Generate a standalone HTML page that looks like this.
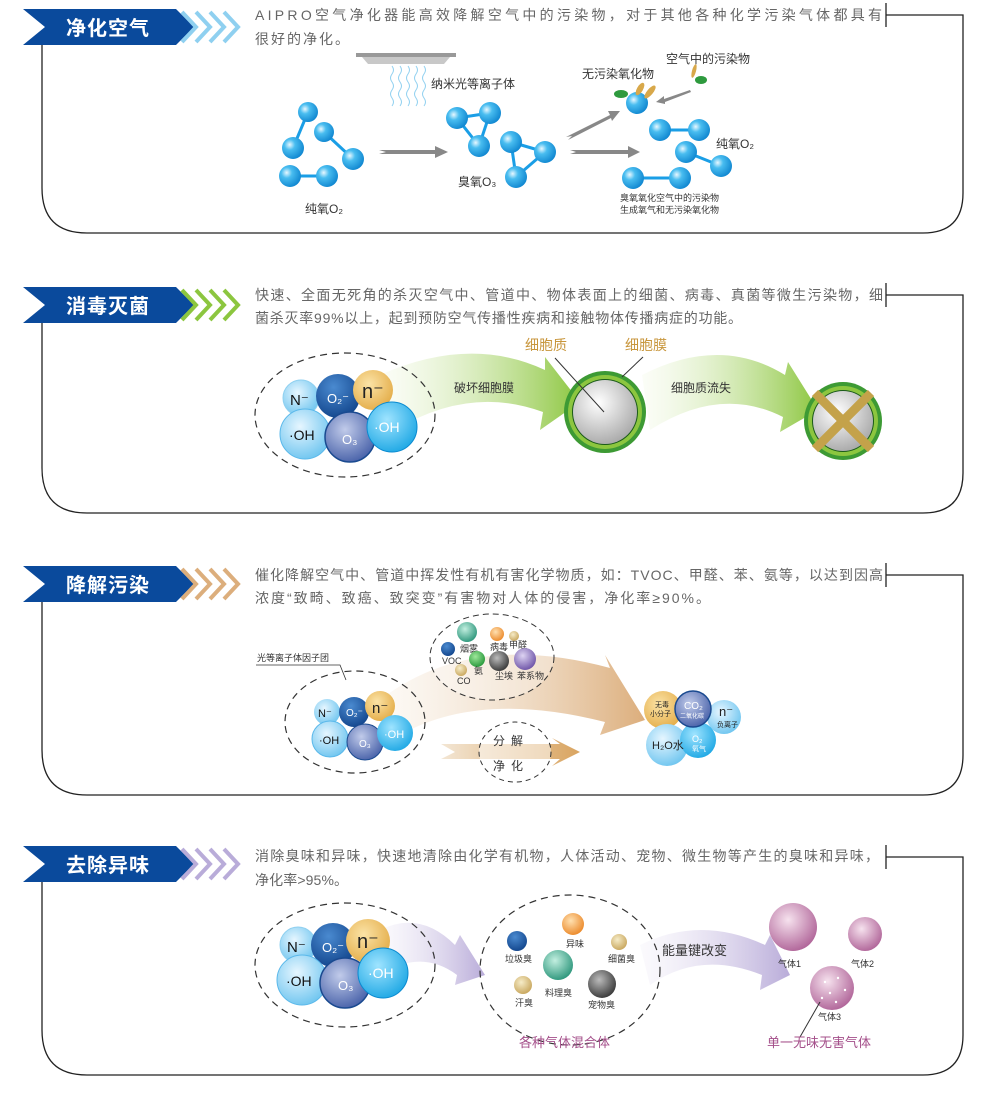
<!DOCTYPE html>
<html><head><meta charset="utf-8"><style>
body{margin:0;background:#fff;}
svg{display:block;font-family:"Liberation Sans","Noto Sans CJK SC",sans-serif;}
.d{font-size:14px;fill:#666;}
.h{font-size:20px;fill:#fff;font-weight:bold;letter-spacing:1px;}
.s{font-size:12px;fill:#333;}
.t{font-size:9px;fill:#333;}
</style></head><body>
<svg width="993" height="1107" viewBox="0 0 993 1107">
<defs>
<radialGradient id="bb" cx="0.35" cy="0.35" r="0.7"><stop offset="0" stop-color="#e8f8ff"/><stop offset="0.35" stop-color="#49bdf0"/><stop offset="1" stop-color="#0f86d0"/></radialGradient>
<radialGradient id="lb" cx="0.4" cy="0.35" r="0.7"><stop offset="0" stop-color="#e6f6ff"/><stop offset="1" stop-color="#6cc4ef"/></radialGradient>
<radialGradient id="db" cx="0.4" cy="0.3" r="0.8"><stop offset="0" stop-color="#4a8ad0"/><stop offset="1" stop-color="#0d3f86"/></radialGradient>
<radialGradient id="ob" cx="0.4" cy="0.35" r="0.8"><stop offset="0" stop-color="#fbe3a6"/><stop offset="1" stop-color="#e0a43a"/></radialGradient>
<radialGradient id="pb" cx="0.4" cy="0.35" r="0.8"><stop offset="0" stop-color="#c1cbea"/><stop offset="1" stop-color="#34509e"/></radialGradient>
<radialGradient id="cb" cx="0.4" cy="0.35" r="0.8"><stop offset="0" stop-color="#9fe4ff"/><stop offset="1" stop-color="#0a9ee0"/></radialGradient>
<radialGradient id="gb" cx="0.4" cy="0.35" r="0.8"><stop offset="0" stop-color="#ffffff"/><stop offset="1" stop-color="#9a9a9a"/></radialGradient>
<radialGradient id="mb" cx="0.4" cy="0.35" r="0.8"><stop offset="0" stop-color="#f6e2ee"/><stop offset="1" stop-color="#a44f8a"/></radialGradient>
<radialGradient id="tb" cx="0.4" cy="0.35" r="0.8"><stop offset="0" stop-color="#c2efe0"/><stop offset="1" stop-color="#13876a"/></radialGradient>
<radialGradient id="ab" cx="0.4" cy="0.35" r="0.8"><stop offset="0" stop-color="#ffe0b0"/><stop offset="1" stop-color="#e87a12"/></radialGradient>
<radialGradient id="kb" cx="0.4" cy="0.35" r="0.8"><stop offset="0" stop-color="#bbb"/><stop offset="1" stop-color="#222"/></radialGradient>
<radialGradient id="vb" cx="0.4" cy="0.35" r="0.8"><stop offset="0" stop-color="#ddd3f2"/><stop offset="1" stop-color="#5a3d9a"/></radialGradient>
<radialGradient id="yb" cx="0.4" cy="0.35" r="0.8"><stop offset="0" stop-color="#f6ecc8"/><stop offset="1" stop-color="#c09a4a"/></radialGradient>
<radialGradient id="nb" cx="0.4" cy="0.35" r="0.8"><stop offset="0" stop-color="#9ee79a"/><stop offset="1" stop-color="#128a2a"/></radialGradient>
<linearGradient id="ga" x1="0" x2="1"><stop offset="0" stop-color="#f3f9e6" stop-opacity="0.3"/><stop offset="1" stop-color="#8cc63f"/></linearGradient>
<linearGradient id="ta" x1="0" x2="1"><stop offset="0" stop-color="#f7ede0" stop-opacity="0.3"/><stop offset="1" stop-color="#dcae7c"/></linearGradient>
<linearGradient id="la" x1="0" x2="1"><stop offset="0" stop-color="#f1eef8" stop-opacity="0.3"/><stop offset="1" stop-color="#b9acd9"/></linearGradient>
<linearGradient id="ha" x1="0" x2="1"><stop offset="0" stop-color="#f3e6d4"/><stop offset="1" stop-color="#d9a460"/></linearGradient>
</defs>

<g fill="none" stroke="#222" stroke-width="1.3">
<path d="M42,45 V188 Q42,233 87,233 H923 Q963,233 963,193 V15 H886 M886,3 V27"/>
<path d="M42,323 V468 Q42,513 87,513 H923 Q963,513 963,473 V295 H886 M886,283 V307"/>
<path d="M42,602 V750 Q42,795 87,795 H923 Q963,795 963,755 V575 H886 M886,563 V587"/>
<path d="M42,882 V1030 Q42,1075 87,1075 H923 Q963,1075 963,1035 V857 H886 M886,845 V869"/>
</g>
<polygon points="23,9 176,9 194,27 176,45 23,45 45,27" fill="#0a4a9c"/>
<path d="M182,12 L196,27 L182,42 M196,12 L210,27 L196,42 M210,12 L224,27 L210,42 M224,12 L238,27 L224,42" stroke="#8fd0f0" stroke-width="4" fill="none"/>
<polygon points="23,287 176,287 194,305 176,323 23,323 45,305" fill="#0a4a9c"/>
<path d="M182,290 L196,305 L182,320 M196,290 L210,305 L196,320 M210,290 L224,305 L210,320 M224,290 L238,305 L224,320" stroke="#8cc63f" stroke-width="4" fill="none"/>
<polygon points="23,566 176,566 194,584 176,602 23,602 45,584" fill="#0a4a9c"/>
<path d="M182,569 L196,584 L182,599 M196,569 L210,584 L196,599 M210,569 L224,584 L210,599 M224,569 L238,584 L224,599" stroke="#dcae7c" stroke-width="4" fill="none"/>
<polygon points="23,846 176,846 194,864 176,882 23,882 45,864" fill="#0a4a9c"/>
<path d="M182,849 L196,864 L182,879 M196,849 L210,864 L196,879 M210,849 L224,864 L210,879 M224,849 L238,864 L224,879" stroke="#b9acd9" stroke-width="4" fill="none"/>
<text class="h" x="66" y="35">净化空气</text>
<text class="h" x="66" y="313">消毒灭菌</text>
<text class="h" x="66" y="592">降解污染</text>
<text class="h" x="66" y="872">去除异味</text>

<text class="d" x="255" y="20" textLength="627" lengthAdjust="spacing">AIPRO空气净化器能高效降解空气中的污染物，对于其他各种化学污染气体都具有</text>
<text class="d" x="255" y="44" textLength="94" lengthAdjust="spacing">很好的净化。</text>
<text class="d" x="255" y="300" textLength="628" lengthAdjust="spacing">快速、全面无死角的杀灭空气中、管道中、物体表面上的细菌、病毒、真菌等微生污染物，细</text>
<text class="d" x="255" y="323" textLength="487" lengthAdjust="spacing">菌杀灭率99%以上，起到预防空气传播性疾病和接触物体传播病症的功能。</text>
<text class="d" x="255" y="580" textLength="628" lengthAdjust="spacing">催化降解空气中、管道中挥发性有机有害化学物质，如：TVOC、甲醛、苯、氨等，以达到因高</text>
<text class="d" x="255" y="603" textLength="455" lengthAdjust="spacing">浓度“致畸、致癌、致突变”有害物对人体的侵害，净化率≥90%。</text>
<text class="d" x="255" y="861" textLength="624" lengthAdjust="spacing">消除臭味和异味，快速地清除由化学有机物，人体活动、宠物、微生物等产生的臭味和异味，</text>
<text class="d" x="255" y="885" textLength="93" lengthAdjust="spacing">净化率&gt;95%。</text>

<!-- Section 1 -->
<rect x="356" y="53" width="100" height="4" fill="#999"/>
<polygon points="362,57 450,57 444,64 368,64" fill="#c8c8c8"/>
<g fill="none" stroke="#8fd0f0" stroke-width="1">
<path d="M392,66 q3,4 0,8 q-3,4 0,8 q3,4 0,8 q-3,4 0,8 q3,4 0,8"/>
<path d="M400,66 q3,4 0,8 q-3,4 0,8 q3,4 0,8 q-3,4 0,8 q3,4 0,8"/>
<path d="M408,66 q3,4 0,8 q-3,4 0,8 q3,4 0,8 q-3,4 0,8 q3,4 0,8"/>
<path d="M416,66 q3,4 0,8 q-3,4 0,8 q3,4 0,8 q-3,4 0,8 q3,4 0,8"/>
<path d="M424,66 q3,4 0,8 q-3,4 0,8 q3,4 0,8 q-3,4 0,8 q3,4 0,8"/>
</g>
<text class="s" x="431" y="88" font-size="11">纳米光等离子体</text>
<g stroke="#1a9ee6" stroke-width="3">
<line x1="308" y1="112" x2="293" y2="148"/><line x1="324" y1="132" x2="353" y2="159"/><line x1="290" y1="176" x2="327" y2="176"/>
<line x1="457" y1="118" x2="490" y2="113"/><line x1="490" y1="113" x2="479" y2="146"/><line x1="457" y1="118" x2="479" y2="146"/>
<line x1="511" y1="142" x2="545" y2="152"/><line x1="545" y1="152" x2="516" y2="177"/><line x1="511" y1="142" x2="516" y2="177"/>
<line x1="660" y1="130" x2="699" y2="130"/><line x1="686" y1="152" x2="721" y2="166"/><line x1="633" y1="178" x2="680" y2="178"/>
</g>
<g fill="url(#bb)">
<circle cx="308" cy="112" r="10"/><circle cx="293" cy="148" r="11"/><circle cx="324" cy="132" r="10"/><circle cx="353" cy="159" r="11"/><circle cx="290" cy="176" r="11"/><circle cx="327" cy="176" r="11"/>
<circle cx="457" cy="118" r="11"/><circle cx="490" cy="113" r="11"/><circle cx="479" cy="146" r="11"/>
<circle cx="511" cy="142" r="11"/><circle cx="545" cy="152" r="11"/><circle cx="516" cy="177" r="11"/>
<circle cx="637" cy="103" r="11"/>
<circle cx="660" cy="130" r="11"/><circle cx="699" cy="130" r="11"/><circle cx="686" cy="152" r="11"/><circle cx="721" cy="166" r="11"/><circle cx="633" cy="178" r="11"/><circle cx="680" cy="178" r="11"/>
</g>
<g fill="#888">
<polygon points="379,150 435,150 435,146 448,152 435,158 435,154 379,154 386,152"/>
<polygon points="566,137 610,115 608,111 620,111 612,121 611,118 568,140 572,136"/>
<polygon points="570,150 628,150 628,146 640,152 628,158 628,154 570,154 576,152"/>
<polygon points="690,90 664,99 664,96 656,102 665,104 665,102 691,92"/>
</g>
<ellipse cx="621" cy="94" rx="7" ry="4" fill="#2e9a3e"/><ellipse cx="640" cy="89" rx="3" ry="7" fill="#d8a84a" transform="rotate(30 640 89)"/><ellipse cx="650" cy="92" rx="3" ry="8" fill="#d8a84a" transform="rotate(40 650 92)"/>
<ellipse cx="701" cy="80" rx="6" ry="4" fill="#2e9a3e"/><ellipse cx="694" cy="71" rx="2" ry="7" fill="#d8a84a" transform="rotate(15 694 71)"/>
<text class="s" x="582" y="78" font-size="11">无污染氧化物</text>
<text class="s" x="666" y="63" font-size="11">空气中的污染物</text>
<text class="s" x="716" y="148" font-size="11">纯氧O₂</text>
<text class="s" x="458" y="186" font-size="11">臭氧O₃</text>
<text class="s" x="305" y="213" font-size="11">纯氧O₂</text>
<text class="t" x="620" y="201">臭氧氧化空气中的污染物</text>
<text class="t" x="620" y="213">生成氧气和无污染氧化物</text>

<!-- Section 2 -->
<path d="M380,375 Q470,335 545,370 L545,357 L580,402 L540,430 L543,412 Q470,385 395,430 Z" fill="url(#ga)"/>
<path d="M642,375 Q720,335 785,375 L788,362 L818,410 L780,432 L783,417 Q720,385 650,430 Z" fill="url(#ga)"/>
<text class="s" x="454" y="392">破坏细胞膜</text>
<text class="s" x="671" y="392">细胞质流失</text>
<ellipse cx="345" cy="415" rx="90" ry="62" fill="none" stroke="#333" stroke-dasharray="7,5" stroke-width="1.2"/>
<circle cx="301" cy="398" r="18" fill="url(#lb)" stroke="#8fd0f0"/>
<circle cx="338" cy="396" r="22" fill="url(#db)"/>
<circle cx="373" cy="390" r="20" fill="url(#ob)"/>
<circle cx="305" cy="434" r="25" fill="url(#lb)" stroke="#5ab8ea"/>
<circle cx="350" cy="437" r="25" fill="url(#pb)" stroke="#1a4a90" stroke-width="1.5"/>
<circle cx="392" cy="427" r="25" fill="url(#cb)" stroke="#0a8ad0"/>
<text x="290" y="405" font-size="15" fill="#111">N⁻</text>
<text x="327" y="403" font-size="13" fill="#fff">O₂⁻</text>
<text x="362" y="398" font-size="20" fill="#222">n⁻</text>
<text x="289" y="440" font-size="14" fill="#111">·OH</text>
<text x="342" y="444" font-size="13" fill="#fff">O₃</text>
<text x="374" y="432" font-size="14" fill="#fff">·OH</text>
<circle cx="605" cy="412" r="41" fill="#3d9a34"/><circle cx="605" cy="412" r="37" fill="#8cc63f"/><circle cx="605" cy="412" r="33" fill="#1a5a1a"/><circle cx="605" cy="412" r="32" fill="url(#gb)"/>
<line x1="555" y1="358" x2="604" y2="412" stroke="#333" stroke-width="1"/>
<line x1="643" y1="357" x2="622" y2="377" stroke="#333" stroke-width="1"/>
<text x="525" y="350" font-size="14" fill="#c8963c">细胞质</text>
<text x="625" y="350" font-size="14" fill="#c8963c">细胞膜</text>
<circle cx="843" cy="421" r="39" fill="#3d9a34"/><circle cx="843" cy="421" r="35" fill="#8cc63f"/><circle cx="843" cy="421" r="31" fill="#1a5a1a"/><circle cx="843" cy="421" r="30" fill="url(#gb)"/>
<g stroke="#c4a24a" stroke-width="9"><line x1="815" y1="393" x2="871" y2="449"/><line x1="871" y1="393" x2="815" y2="449"/></g>

<!-- Section 3 -->
<path d="M380,700 Q470,630 610,668 L605,655 L645,720 L600,735 L605,722 Q480,690 400,735 Z" fill="url(#ta)"/>
<ellipse cx="492" cy="657" rx="62" ry="43" fill="#fff" fill-opacity="0.3" stroke="#333" stroke-dasharray="6,4"/>
<circle cx="467" cy="632" r="10" fill="url(#tb)"/><text class="t" x="460" y="652" font-size="6">烟雾</text>
<circle cx="497" cy="634" r="7" fill="url(#ab)"/><text class="t" x="490" y="650" font-size="6">病毒</text>
<circle cx="514" cy="636" r="5" fill="url(#yb)"/><text class="t" x="509" y="648" font-size="6">甲醛</text>
<circle cx="448" cy="649" r="7" fill="url(#db)"/><text class="t" x="442" y="664" font-size="6">VOC</text>
<circle cx="477" cy="659" r="8" fill="url(#nb)"/><text class="t" x="474" y="674" font-size="6">氨</text>
<circle cx="499" cy="661" r="10" fill="url(#kb)"/><text class="t" x="495" y="679" font-size="6">尘埃</text>
<circle cx="525" cy="659" r="11" fill="url(#vb)"/><text class="t" x="517" y="679" font-size="6">苯系物</text>
<circle cx="461" cy="670" r="6" fill="url(#yb)"/><text class="t" x="457" y="684" font-size="6">CO</text>
<polyline points="256,665 340,665 346,680" fill="none" stroke="#333" stroke-width="0.8"/>
<text class="t" x="257" y="661" font-size="7">光等离子体因子团</text>
<ellipse cx="355" cy="722" rx="70" ry="51" fill="none" stroke="#333" stroke-dasharray="7,5" stroke-width="1.2"/>
<circle cx="327" cy="712" r="13" fill="url(#lb)"/>
<circle cx="354" cy="712" r="15" fill="url(#db)"/>
<circle cx="380" cy="706" r="15" fill="url(#ob)"/>
<circle cx="330" cy="739" r="18" fill="url(#lb)" stroke="#5ab8ea"/>
<circle cx="365" cy="742" r="18" fill="url(#pb)" stroke="#1a4a90"/>
<circle cx="395" cy="733" r="18" fill="url(#cb)"/>
<text x="318" y="717" font-size="11" fill="#111">N⁻</text>
<text x="346" y="716" font-size="10" fill="#fff">O₂⁻</text>
<text x="372" y="713" font-size="15" fill="#222">n⁻</text>
<text x="319" y="744" font-size="11" fill="#111">·OH</text>
<text x="359" y="747" font-size="10" fill="#fff">O₃</text>
<text x="384" y="738" font-size="11" fill="#fff">·OH</text>
<polygon points="441,744 560,744 552,738 580,752 552,766 560,759 441,759 455,752" fill="url(#ha)"/>
<ellipse cx="515" cy="752" rx="36" ry="30" fill="#fff" fill-opacity="0.5" stroke="#333" stroke-dasharray="5,4"/>
<text x="493" y="745" font-size="12" fill="#333" letter-spacing="6">分解</text>
<text x="493" y="770" font-size="12" fill="#333" letter-spacing="6">净化</text>
<circle cx="663" cy="710" r="19" fill="url(#ob)"/>
<circle cx="724" cy="717" r="17" fill="url(#lb)"/>
<circle cx="667" cy="745" r="21" fill="url(#lb)"/>
<circle cx="698" cy="740" r="18" fill="url(#cb)"/>
<circle cx="693" cy="709" r="18" fill="url(#pb)" stroke="#1a4a90" stroke-width="1.5"/>
<text x="655" y="707" font-size="7" fill="#222">无毒</text><text x="650" y="716" font-size="7" fill="#222">小分子</text>
<text x="684" y="709" font-size="10" fill="#fff">CO₂</text><text x="680" y="718" font-size="6" fill="#fff">二氧化碳</text>
<text x="719" y="716" font-size="13" fill="#222">n⁻</text><text x="717" y="727" font-size="7" fill="#222">负离子</text>
<text x="652" y="749" font-size="11" fill="#222">H₂O水</text>
<text x="692" y="742" font-size="9" fill="#fff">O₂</text><text x="692" y="751" font-size="7" fill="#fff">氧气</text>

<!-- Section 4 -->
<path d="M380,930 Q420,910 455,945 L460,935 L485,975 L455,985 L457,975 Q430,955 400,965 Z" fill="url(#la)"/>
<path d="M640,945 Q700,915 765,945 L770,935 L790,975 L760,990 L762,975 Q700,950 650,985 Z" fill="url(#la)"/>
<ellipse cx="345" cy="965" rx="90" ry="62" fill="none" stroke="#333" stroke-dasharray="7,5" stroke-width="1.2"/>
<circle cx="298" cy="945" r="18" fill="url(#lb)" stroke="#8fd0f0"/>
<circle cx="333" cy="945" r="22" fill="url(#db)"/>
<circle cx="368" cy="941" r="22" fill="url(#ob)"/>
<circle cx="302" cy="980" r="25" fill="url(#lb)" stroke="#5ab8ea"/>
<circle cx="345" cy="983" r="25" fill="url(#pb)" stroke="#1a4a90" stroke-width="1.5"/>
<circle cx="383" cy="973" r="25" fill="url(#cb)" stroke="#0a8ad0"/>
<text x="287" y="952" font-size="15" fill="#111">N⁻</text>
<text x="322" y="952" font-size="13" fill="#fff">O₂⁻</text>
<text x="357" y="948" font-size="20" fill="#222">n⁻</text>
<text x="286" y="986" font-size="14" fill="#111">·OH</text>
<text x="338" y="990" font-size="13" fill="#fff">O₃</text>
<text x="368" y="978" font-size="14" fill="#fff">·OH</text>
<ellipse cx="570" cy="970" rx="90" ry="75" fill="none" stroke="#333" stroke-dasharray="7,5" stroke-width="1.2"/>
<circle cx="517" cy="941" r="10" fill="url(#db)"/><text class="t" x="505" y="962">垃圾臭</text>
<circle cx="573" cy="924" r="11" fill="url(#ab)"/><text class="t" x="566" y="947">异味</text>
<circle cx="619" cy="942" r="8" fill="url(#yb)"/><text class="t" x="608" y="962">细菌臭</text>
<circle cx="558" cy="965" r="15" fill="url(#tb)"/><text class="t" x="545" y="996">料理臭</text>
<circle cx="523" cy="985" r="9" fill="url(#yb)"/><text class="t" x="515" y="1006">汗臭</text>
<circle cx="602" cy="984" r="14" fill="url(#kb)"/><text class="t" x="588" y="1008">宠物臭</text>
<text x="519" y="1047" font-size="13" fill="#a44f8a">各种气体混合体</text>
<text x="662" y="955" font-size="13" fill="#333">能量键改变</text>
<circle cx="793" cy="927" r="24" fill="url(#mb)"/>
<circle cx="865" cy="934" r="17" fill="url(#mb)"/>
<circle cx="832" cy="988" r="22" fill="url(#mb)"/>
<g fill="#fff"><circle cx="825" cy="982" r="1.2"/><circle cx="838" cy="978" r="1.2"/><circle cx="830" cy="993" r="1.2"/><circle cx="845" cy="990" r="1.2"/><circle cx="822" cy="998" r="1.2"/><circle cx="836" cy="1002" r="1.2"/></g>
<text class="t" x="778" y="967">气体1</text>
<text class="t" x="851" y="967">气体2</text>
<text class="t" x="818" y="1020">气体3</text>
<line x1="820" y1="1002" x2="800" y2="1037" stroke="#333"/>
<text x="767" y="1047" font-size="13" fill="#a44f8a">单一无味无害气体</text>
</svg>
</body></html>
